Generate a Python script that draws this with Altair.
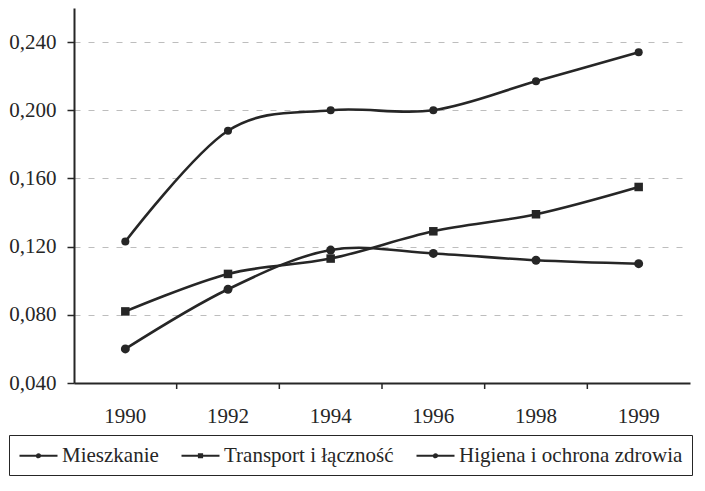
import altair as alt
import pandas as pd

years = ["1990", "1992", "1994", "1996", "1998", "1999"]
series = ["Mieszkanie", "Transport i łączność", "Higiena i ochrona zdrowia"]
mieszkanie = [0.123, 0.188, 0.200, 0.200, 0.217, 0.234]
transport = [0.082, 0.104, 0.113, 0.129, 0.139, 0.155]
higiena = [0.060, 0.095, 0.118, 0.116, 0.112, 0.110]
y_ticks = [0.04, 0.08, 0.12, 0.16, 0.20, 0.24]

rows = []
for name, vals in zip(series, [mieszkanie, transport, higiena]):
    for yr, v in zip(years, vals):
        rows.append({"year": yr, "value": v, "series": name})
df = pd.DataFrame(rows)

INK = "#262626"
FONT = "Liberation Serif"
FS = 21
W, H = 616, 375

x = alt.X(
    "year:N", sort=years, title=None,
    scale=alt.Scale(paddingInner=0, paddingOuter=0),
    axis=alt.Axis(ticks=False, labelAngle=0, labelFont=FONT, labelFontSize=FS,
                  labelColor=INK, labelPadding=22, domainColor=INK, domainWidth=2,
                  grid=False),
)
y = alt.Y(
    "value:Q", title=None,
    scale=alt.Scale(domain=[0.04, 0.26], nice=False, zero=False),
    axis=alt.Axis(values=y_ticks, labelExpr="replace(format(datum.value, '.3f'), '.', ',')",
                  labelFont=FONT, labelFontSize=FS, labelColor=INK, labelPadding=11,
                  tickSize=7, tickColor=INK, tickWidth=1.5, domainColor=INK, domainWidth=2,
                  grid=True, gridColor="#bdbdbd", gridDash=[6, 8], gridWidth=1),
)

base = alt.Chart(df)

lines = base.mark_line(interpolate="cardinal", tension=0, strokeWidth=2.6, color=INK).encode(
    x=x, y=y, detail="series:N"
)

points = base.mark_point(filled=True, opacity=1, color=INK).encode(
    x=x, y=y,
    shape=alt.Shape("series:N", scale=alt.Scale(domain=series, range=["circle", "square", "circle"]),
                    legend=None),
    size=alt.Size("series:N", scale=alt.Scale(domain=series, range=[65, 80, 65]), legend=None),
)

circ = "M-1,0H2.8M0.75,0A0.15,0.15,0,1,1,1.05,0A0.15,0.15,0,1,1,0.75,0Z"
sq = "M-1,0H2.8M0.75,-0.15H1.05V0.15H0.75Z"

legend_layer = base.mark_point(filled=False, opacity=0, color=INK).encode(
    x=x, y=y,
    shape=alt.Shape(
        "series:N",
        scale=alt.Scale(domain=series, range=[circ, sq, circ]),
        legend=alt.Legend(
            title=None, orient="none", legendX=-65, legendY=427, direction="horizontal",
            strokeColor=INK, fillColor="white", padding=9, labelFont=FONT, labelFontSize=FS,
            labelColor=INK, labelLimit=500, symbolSize=400, labelOffset=21, columnPadding=18,
            symbolOpacity=1, symbolFillColor=INK, symbolStrokeColor=INK, symbolStrokeWidth=2.2,
        ),
    ),
)

tick_df = pd.DataFrame({"year": years[1:]})
ticks = alt.Chart(tick_df).mark_rule(color=INK, strokeWidth=1.5).encode(
    x=alt.X("year:N", sort=years, bandPosition=0),
    y=alt.value(H),
    y2=alt.value(H + 6),
)

chart = (
    alt.layer(lines, points, legend_layer, ticks)
    .resolve_scale(shape="independent", size="independent")
    .properties(width=W, height=H, padding={"left": 0, "top": 0, "right": 0, "bottom": 0})
    .configure_view(stroke=None)
)

chart.save("out.html", embed_options={"renderer": "svg", "actions": False})
